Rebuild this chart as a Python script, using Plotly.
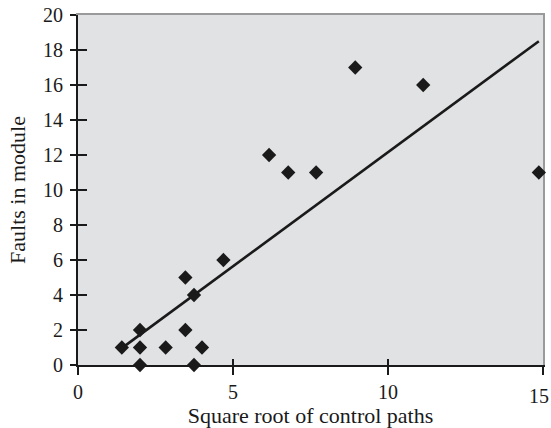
import numpy as np
import plotly.graph_objects as go

# Square root of control paths per module, and faults found in each module
sqrt_paths = [1.414, 2.0, 2.0, 2.0, 2.828, 3.464, 3.464, 3.742, 3.742, 4.0,
              4.690, 6.164, 6.782, 7.681, 8.944, 11.136, 14.866]
faults = [1, 2, 1, 0, 1, 5, 2, 4, 0, 1, 6, 12, 11, 11, 17, 16, 11]

x_ticks = [0, 5, 10, 15]
x_tick_text = ["0", "5", "10", "15"]
y_ticks = [0, 2, 4, 6, 8, 10, 12, 14, 16, 18, 20]

# Least-squares trend line over the observed span
slope, intercept = np.polyfit(sqrt_paths, faults, 1)
fit_x = [min(sqrt_paths), max(sqrt_paths)]
fit_y = [slope * v + intercept for v in fit_x]

ink = "#1a1a1a"
font_family = "Liberation Serif, Times New Roman, serif"

fig = go.Figure()
fig.add_trace(go.Scatter(x=fit_x, y=fit_y, mode="lines",
                         line=dict(color=ink, width=2.6),
                         hoverinfo="skip", showlegend=False, cliponaxis=False))
fig.add_trace(go.Scatter(x=sqrt_paths, y=faults, mode="markers",
                         marker=dict(symbol="diamond", size=11, color=ink),
                         showlegend=False, cliponaxis=False))
# invisible traces anchoring the overlay axes (inner ticks and frame)
for xa, ya in [("x2", "y2"), ("x3", "y3")]:
    fig.add_trace(go.Scatter(x=[None], y=[None], xaxis=xa, yaxis=ya,
                             showlegend=False, hoverinfo="skip"))

xr = [0, 15.0005]
yr = [0, 20.0005]
common = dict(range=xr, showgrid=False, zeroline=False, fixedrange=True,
              automargin=False)
commony = dict(range=yr, showgrid=False, zeroline=False, fixedrange=True,
               automargin=False)

# the last x label is drawn on the overlay axis, nudged left to fit the page
main_text = x_tick_text[:-1] + [""]
edge_text = [""] * (len(x_tick_text) - 1) + [x_tick_text[-1]]

fig.update_layout(
    width=551, height=428,
    margin=dict(l=78, r=8, t=15, b=63, autoexpand=False),
    paper_bgcolor="white",
    plot_bgcolor="#e1e2e4",
    font=dict(family=font_family, size=20, color=ink),
    xaxis=dict(**common, tickvals=x_ticks, ticktext=main_text,
               ticks="outside", ticklen=8,
               tickwidth=2, tickcolor=ink, showline=True, linecolor=ink,
               linewidth=2, layer="below traces", ticklabeloverflow="allow",
               tickfont=dict(size=20, color=ink),
               title=dict(text="Square root of control paths",
                          font=dict(size=22, color=ink), standoff=4)),
    yaxis=dict(**commony, tickvals=y_ticks, ticks="outside", ticklen=6,
               tickwidth=2, tickcolor=ink, showline=True, linecolor=ink,
               linewidth=2, layer="below traces", ticklabeloverflow="allow",
               ticklabelstandoff=3,
               tickfont=dict(size=20, color=ink),
               title=dict(text="Faults in module",
                          font=dict(size=22, color=ink), standoff=11)),
    # inner halves of the tick marks
    xaxis2=dict(**common, overlaying="x", anchor="y2", side="bottom",
                tickvals=x_ticks, ticktext=edge_text, ticks="inside",
                ticklen=6, tickwidth=2, tickcolor=ink, showticklabels=True,
                ticklabelshift=-4, ticklabelstandoff=17,
                ticklabeloverflow="allow",
                tickfont=dict(size=20, color=ink),
                showline=False, layer="below traces"),
    yaxis2=dict(**commony, overlaying="y", anchor="x2", side="left",
                tickvals=y_ticks[:-1], ticks="inside", ticklen=9, tickwidth=2,
                tickcolor=ink, showticklabels=False, showline=False,
                layer="below traces"),
    # light frame along the top and right
    xaxis3=dict(**common, overlaying="x", anchor="y3", side="top",
                showticklabels=False, ticks="", showline=True,
                linecolor="#9a9a9a", linewidth=1.5, layer="below traces"),
    yaxis3=dict(**commony, overlaying="y", anchor="x3", side="right",
                showticklabels=False, ticks="", showline=True,
                linecolor="#9a9a9a", linewidth=1.5, layer="below traces"),
)

fig.write_html("out.html")
